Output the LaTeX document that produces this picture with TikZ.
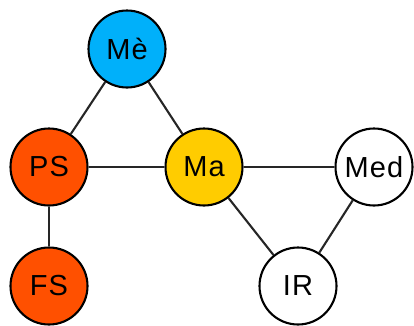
\documentclass[tikz,border=0pt]{standalone}
\usepackage{fontspec}
\setmainfont{Liberation Sans}[LetterSpace=4]
\begin{document}
\begin{tikzpicture}[x=1pt,y=-1pt,
  vtx/.style={circle,draw=black,line width=2.1pt,minimum size=77pt,inner sep=0pt,font=\fontsize{29}{31}\selectfont},
  edge/.style={line width=2.1pt,draw=black!85}]
\definecolor{meblue}{RGB}{0,176,250}
\definecolor{psred}{RGB}{255,80,0}
\definecolor{mayel}{RGB}{255,204,0}
\useasboundingbox (0,0) rectangle (414,325);
\node[vtx,fill=meblue] (me) at (127,49) {Mè};
\node[vtx,fill=psred] (ps) at (49,167) {PS};
\node[vtx,fill=mayel] (ma) at (204,167) {Ma};
\node[vtx,fill=white] (med) at (374,167) {Med};
\node[vtx,fill=psred] (fs) at (49,286) {FS};
\node[vtx,fill=white] (ir) at (298,286) {IR};
\draw[edge] (me) -- (ps);
\draw[edge] (me) -- (ma);
\draw[edge] (ps) -- (ma);
\draw[edge] (ps) -- (fs);
\draw[edge] (ma) -- (med);
\draw[edge] (ma) -- (ir);
\draw[edge] (med) -- (ir);
\end{tikzpicture}
\end{document}
